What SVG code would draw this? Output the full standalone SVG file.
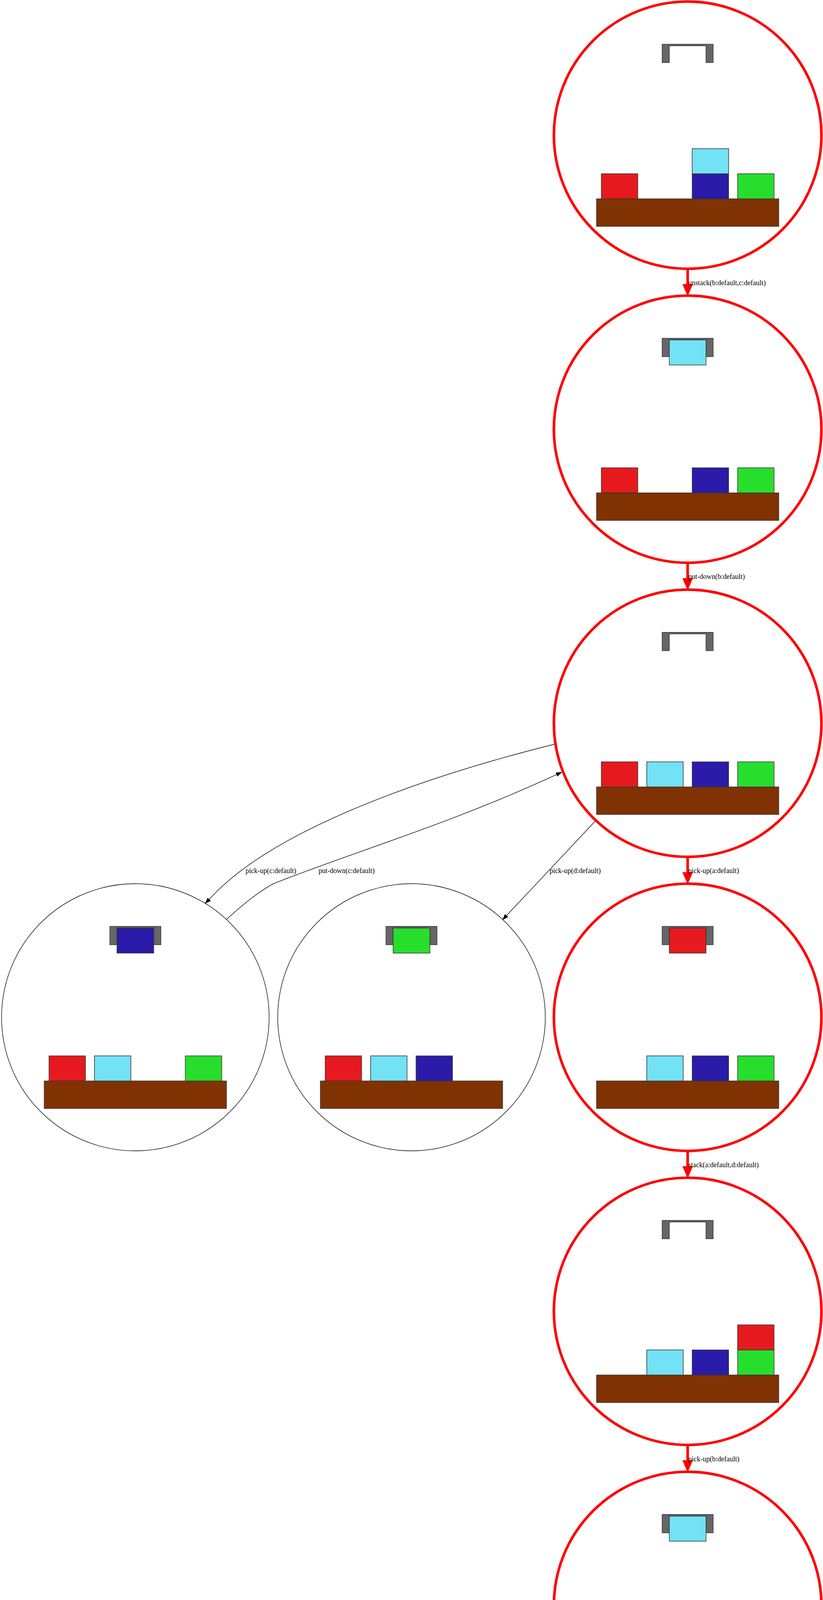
<svg xmlns="http://www.w3.org/2000/svg" xmlns:xlink="http://www.w3.org/1999/xlink" width="2107" height="6714" viewBox="0 0 2107 6714">
<style>
.bg{fill:#ffffff}
.main{fill:none;stroke:#ff0000;stroke-width:6.67}
.side{fill:none;stroke:#000000;stroke-width:1.33}
.tbl{fill:#803202;stroke:#333333;stroke-width:1.5}
.blk{stroke:#333333;stroke-width:1.5}
.a{fill:#E61A1E}
.b{fill:#72E2F4}
.c{fill:#2A1BA8}
.d{fill:#28DE2D}
.grip{fill:#666666;stroke:#333333;stroke-width:1.5}
.redline{fill:none;stroke:#ff0000;stroke-width:6.67}
.redhead{fill:#ff0000;stroke:none}
.blkline{fill:none;stroke:#000000;stroke-width:1.33}
.blkhead{fill:#000000;stroke:#000000;stroke-width:1.33}
text{font-family:"Liberation Serif","Times New Roman",serif;font-size:18px;fill:#000000}
</style>
<defs>
<rect id="table" class="tbl" x="-233.3" y="163" width="466.6" height="70.5"/>
<polygon id="gripper" class="grip" points="-65.3,-232.7 65.3,-232.7 65.3,-185.7 47,-185.7 47,-228.7 -47,-228.7 -47,-185.7 -65.3,-185.7"/>
</defs>
<rect class="bg" x="0" y="0" width="2107" height="6714"/>

<g id="connectors">
<g id="e1"><line class="redline" x1="1760.5" y1="688" x2="1760.5" y2="729"/><polygon class="redhead" points="1747,727.25 1760.5,758.75 1774,727.25"/><text x="1762" y="729.5">unstack(b:default,c:default)</text></g>
<g id="e2"><line class="redline" x1="1760.5" y1="1440.75" x2="1760.5" y2="1482"/><polygon class="redhead" points="1747,1480 1760.5,1511.5 1774,1480"/><text x="1762" y="1482.25">put-down(b:default)</text></g>
<g id="e3"><line class="redline" x1="1760.5" y1="2193.5" x2="1760.5" y2="2234.5"/><polygon class="redhead" points="1747,2232.75 1760.5,2264.25 1774,2232.75"/><text x="1762" y="2235">pick-up(a:default)</text></g>
<g id="e4"><line class="redline" x1="1760.5" y1="2946.25" x2="1760.5" y2="2987.5"/><polygon class="redhead" points="1747,2985.5 1760.5,3017 1774,2985.5"/><text x="1762" y="2987.75">stack(a:default,d:default)</text></g>
<g id="e5"><line class="redline" x1="1760.5" y1="3699" x2="1760.5" y2="3740"/><polygon class="redhead" points="1747,3738.25 1760.5,3769.75 1774,3738.25"/><text x="1762" y="3740.5">pick-up(b:default)</text></g>
<g id="e6"><line class="redline" x1="1760.5" y1="4451.75" x2="1760.5" y2="4493"/><polygon class="redhead" points="1747,4491 1760.5,4522.5 1774,4491"/><text x="1762" y="4493.25">stack(b:default,a:default)</text></g>
<g id="e7"><line class="redline" x1="1760.5" y1="5204.5" x2="1760.5" y2="5245.5"/><polygon class="redhead" points="1747,5243.75 1760.5,5275.25 1774,5243.75"/><text x="1762" y="5246">pick-up(c:default)</text></g>
<g id="e8"><line class="redline" x1="1760.5" y1="5957.25" x2="1760.5" y2="5998.5"/><polygon class="redhead" points="1747,5996.5 1760.5,6028 1774,5996.5"/><text x="1762" y="5998.75">stack(c:default,b:default)</text></g>
<g id="eL1"><path class="blkline" d="M1420,1905 C1100,1985 700,2120 535.2,2302.8"/><polygon class="blkhead" points="538.5,2306.1 525.7,2312.3 531.9,2299.5"/><text x="628.6" y="2235">pick-up(c:default)</text></g>
<g id="eL2"><path class="blkline" d="M580,2353.5 C615,2322 655,2287 701,2261.7 C900,2183 1150,2110 1425.4,1982.6"/><polygon class="blkhead" points="1427.4,1986.8 1437.5,1977 1423.4,1978.4"/><text x="815.4" y="2235">put-down(c:default)</text></g>
<g id="eM"><path class="blkline" d="M1523,2103 L1296.4,2344.3"/><polygon class="blkhead" points="1299.8,2347.5 1287.3,2354 1293,2341.1"/><text x="1407" y="2235">pick-up(d:default)</text></g>
</g>

<g id="n1" transform="translate(1760.5,346)">
<ellipse class="main" cx="0" cy="0" rx="342.5" ry="342"/>
<use xlink:href="#table"/>
<rect class="blk a" x="-221" y="98.8" width="93.3" height="64.2"/>
<rect class="blk c" x="11.6" y="98.8" width="93.3" height="64.2"/>
<rect class="blk b" x="11.6" y="34.6" width="93.3" height="64.2"/>
<rect class="blk d" x="127.9" y="98.8" width="93.3" height="64.2"/>
<use xlink:href="#gripper"/>
</g>

<g id="n2" transform="translate(1760.5,1098.75)">
<ellipse class="main" cx="0" cy="0" rx="342.5" ry="342"/>
<use xlink:href="#table"/>
<rect class="blk a" x="-221" y="98.8" width="93.3" height="64.2"/>
<rect class="blk c" x="11.6" y="98.8" width="93.3" height="64.2"/>
<rect class="blk d" x="127.9" y="98.8" width="93.3" height="64.2"/>
<use xlink:href="#gripper"/>
<rect class="blk b" x="-47" y="-228.5" width="94" height="64.2"/>
</g>

<g id="n3" transform="translate(1760.5,1851.5)">
<ellipse class="main" cx="0" cy="0" rx="342.5" ry="342"/>
<use xlink:href="#table"/>
<rect class="blk a" x="-221" y="98.8" width="93.3" height="64.2"/>
<rect class="blk b" x="-104.7" y="98.8" width="93.3" height="64.2"/>
<rect class="blk c" x="11.6" y="98.8" width="93.3" height="64.2"/>
<rect class="blk d" x="127.9" y="98.8" width="93.3" height="64.2"/>
<use xlink:href="#gripper"/>
</g>

<g id="nL" transform="translate(346.5,2604.25)">
<ellipse class="side" cx="0" cy="0" rx="342.5" ry="342"/>
<use xlink:href="#table"/>
<rect class="blk a" x="-221" y="98.8" width="93.3" height="64.2"/>
<rect class="blk b" x="-104.7" y="98.8" width="93.3" height="64.2"/>
<rect class="blk d" x="127.9" y="98.8" width="93.3" height="64.2"/>
<use xlink:href="#gripper"/>
<rect class="blk c" x="-47" y="-228.5" width="94" height="64.2"/>
</g>

<g id="nM" transform="translate(1053.5,2604.25)">
<ellipse class="side" cx="0" cy="0" rx="342.5" ry="342"/>
<use xlink:href="#table"/>
<rect class="blk a" x="-221" y="98.8" width="93.3" height="64.2"/>
<rect class="blk b" x="-104.7" y="98.8" width="93.3" height="64.2"/>
<rect class="blk c" x="11.6" y="98.8" width="93.3" height="64.2"/>
<use xlink:href="#gripper"/>
<rect class="blk d" x="-47" y="-228.5" width="94" height="64.2"/>
</g>

<g id="n4" transform="translate(1760.5,2604.25)">
<ellipse class="main" cx="0" cy="0" rx="342.5" ry="342"/>
<use xlink:href="#table"/>
<rect class="blk b" x="-104.7" y="98.8" width="93.3" height="64.2"/>
<rect class="blk c" x="11.6" y="98.8" width="93.3" height="64.2"/>
<rect class="blk d" x="127.9" y="98.8" width="93.3" height="64.2"/>
<use xlink:href="#gripper"/>
<rect class="blk a" x="-47" y="-228.5" width="94" height="64.2"/>
</g>

<g id="n5" transform="translate(1760.5,3357)">
<ellipse class="main" cx="0" cy="0" rx="342.5" ry="342"/>
<use xlink:href="#table"/>
<rect class="blk b" x="-104.7" y="98.8" width="93.3" height="64.2"/>
<rect class="blk c" x="11.6" y="98.8" width="93.3" height="64.2"/>
<rect class="blk d" x="127.9" y="98.8" width="93.3" height="64.2"/>
<rect class="blk a" x="127.9" y="34.6" width="93.3" height="64.2"/>
<use xlink:href="#gripper"/>
</g>

<g id="n6" transform="translate(1760.5,4109.75)">
<ellipse class="main" cx="0" cy="0" rx="342.5" ry="342"/>
<use xlink:href="#table"/>
<rect class="blk c" x="11.6" y="98.8" width="93.3" height="64.2"/>
<rect class="blk d" x="127.9" y="98.8" width="93.3" height="64.2"/>
<rect class="blk a" x="127.9" y="34.6" width="93.3" height="64.2"/>
<use xlink:href="#gripper"/>
<rect class="blk b" x="-47" y="-228.5" width="94" height="64.2"/>
</g>

<g id="n7" transform="translate(1760.5,4862.5)">
<ellipse class="main" cx="0" cy="0" rx="342.5" ry="342"/>
<use xlink:href="#table"/>
<rect class="blk c" x="11.6" y="98.8" width="93.3" height="64.2"/>
<rect class="blk d" x="127.9" y="98.8" width="93.3" height="64.2"/>
<rect class="blk a" x="127.9" y="34.6" width="93.3" height="64.2"/>
<rect class="blk b" x="127.9" y="-29.6" width="93.3" height="64.2"/>
<use xlink:href="#gripper"/>
</g>

<g id="n8" transform="translate(1760.5,5615.25)">
<ellipse class="main" cx="0" cy="0" rx="342.5" ry="342"/>
<use xlink:href="#table"/>
<rect class="blk d" x="127.9" y="98.8" width="93.3" height="64.2"/>
<rect class="blk a" x="127.9" y="34.6" width="93.3" height="64.2"/>
<rect class="blk b" x="127.9" y="-29.6" width="93.3" height="64.2"/>
<use xlink:href="#gripper"/>
<rect class="blk c" x="-47" y="-228.5" width="94" height="64.2"/>
</g>

<g id="n9" transform="translate(1760.5,6368)">
<ellipse class="main" cx="0" cy="0" rx="342.5" ry="342"/>
<use xlink:href="#table"/>
<rect class="blk d" x="127.9" y="98.8" width="93.3" height="64.2"/>
<rect class="blk a" x="127.9" y="34.6" width="93.3" height="64.2"/>
<rect class="blk b" x="127.9" y="-29.6" width="93.3" height="64.2"/>
<rect class="blk c" x="127.9" y="-93.8" width="93.3" height="64.2"/>
<use xlink:href="#gripper"/>
</g>
</svg>
